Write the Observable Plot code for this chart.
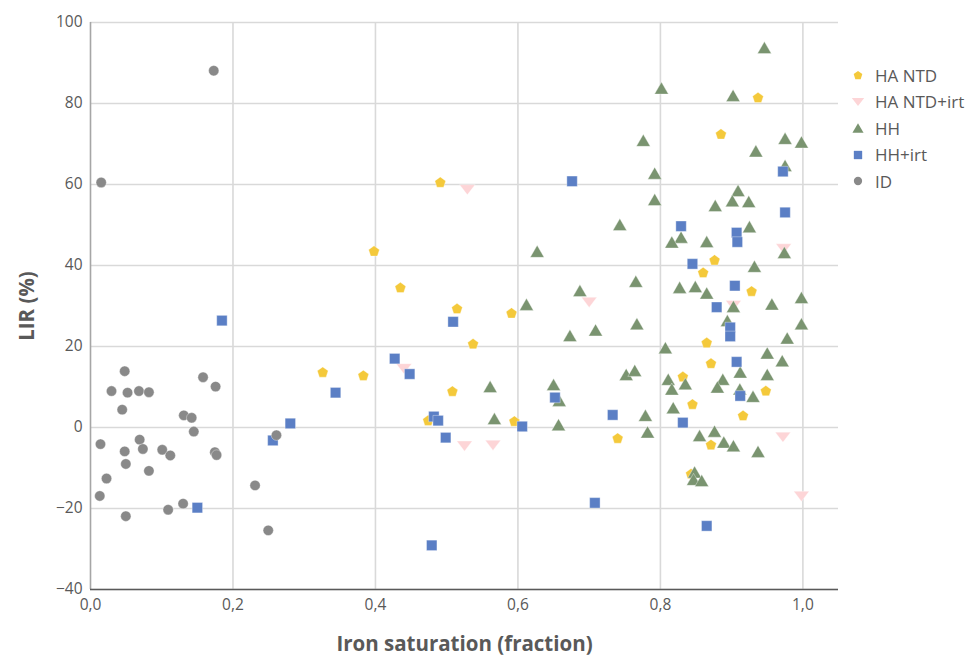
<!DOCTYPE html>
<html>
<head>
<meta charset="utf-8">
<script src="https://cdn.jsdelivr.net/npm/d3@7"></script>
<script src="https://cdn.jsdelivr.net/npm/@observablehq/plot@0.6"></script>
<style>
  body { margin: 0; background: #fff; }
  #wrap { position: relative; width: 973px; height: 658px; font-family: "Open Sans", sans-serif; }
  #legend { position: absolute; left: 849px; top: 62px; color: #595959; font-size: 17px; }
  #legend .row { display: flex; align-items: center; height: 26.5px; }
  #legend svg { width: 18px; height: 18px; margin-right: 8px; }
</style>
</head>
<body>
<div id="wrap"><div id="legend"></div></div>
<script>
// ---- data (x: iron saturation fraction, y: LIR %) ----
const seriesNames = ["HA NTD", "HA NTD+irt", "HH", "HH+irt", "ID"];
const seriesColors = ["#f4c93b", "#fdd5d7", "#7a9470", "#5b7fc5", "#898989"];

const haNtd = [
  [0.491, 60.6], [0.398, 43.6], [0.435, 34.6], [0.5145, 29.4], [0.591, 28.3],
  [0.326, 13.7], [0.383, 12.9], [0.537, 20.7], [0.508, 9.0], [0.474, 1.8],
  [0.595, 1.6], [0.740, -2.6], [0.937, 81.5], [0.885, 72.5], [0.876, 41.4],
  [0.860, 38.3], [0.928, 33.7], [0.865, 21.0], [0.871, 15.9], [0.8315, 12.6],
  [0.948, 9.1], [0.845, 5.8], [0.916, 3.0], [0.871, -4.2], [0.843, -11.4]
];
const haNtdIrt = [
  [0.529, 58.7], [0.700, 30.9], [0.440, 14.5], [0.525, -4.6], [0.565, -4.4],
  [0.973, 44.1], [0.9025, 30.1], [0.972, -2.4], [0.998, -17.0]
];
const hh = [
  [0.743, 50.1], [0.627, 43.5], [0.687, 33.8], [0.612, 30.4], [0.673, 22.7],
  [0.709, 24.1], [0.752, 13.1], [0.561, 10.1], [0.650, 10.6], [0.658, 6.7],
  [0.567, 2.2], [0.657, 0.7], [0.946, 93.8], [0.8015, 83.8], [0.902, 82.0],
  [0.776, 70.9], [0.975, 71.4], [0.998, 70.5], [0.934, 68.3], [0.792, 62.8],
  [0.975, 64.7], [0.792, 56.3], [0.909, 58.5], [0.901, 56.0], [0.924, 55.8],
  [0.877, 54.8], [0.925, 49.6], [0.829, 47.0], [0.816, 45.8], [0.865, 45.9],
  [0.974, 43.2], [0.932, 39.8], [0.7655, 36.1], [0.827, 34.6], [0.849, 34.8],
  [0.865, 33.2], [0.998, 32.1], [0.9565, 30.5], [0.9025, 29.9], [0.894, 26.4],
  [0.998, 25.6], [0.767, 25.6], [0.978, 22.1], [0.807, 19.7], [0.950, 18.4],
  [0.971, 16.5], [0.912, 13.7], [0.950, 13.1], [0.764, 14.1], [0.811, 11.9],
  [0.816, 9.5], [0.835, 10.8], [0.8876, 11.9], [0.880, 10.0], [0.9115, 9.5],
  [0.930, 7.7], [0.818, 4.9], [0.779, 3.0], [0.782, -1.1], [0.855, -2.0],
  [0.876, -0.9], [0.889, -3.6], [0.9025, -4.5], [0.937, -5.9], [0.848, -11.0],
  [0.8465, -12.8], [0.858, -13.1]
];
const hhIrt = [
  [0.1845, 26.4], [0.344, 8.6], [0.2805, 1.0], [0.256, -3.2], [0.150, -19.8],
  [0.676, 60.8], [0.509, 26.1], [0.427, 17.0], [0.448, 13.2], [0.482, 2.7],
  [0.488, 1.7], [0.4986, -2.5], [0.606, 0.25], [0.652, 7.4], [0.733, 3.1],
  [0.708, -18.6], [0.479, -29.1], [0.972, 63.2], [0.975, 53.1], [0.829, 49.7],
  [0.907, 48.1], [0.908, 45.8], [0.845, 40.4], [0.9045, 35.0], [0.879, 29.7],
  [0.898, 24.7], [0.898, 22.5], [0.907, 16.2], [0.912, 7.8], [0.8315, 1.2],
  [0.865, -24.3]
];
const id = [
  [0.173, 88.1], [0.015, 60.5], [0.048, 13.9], [0.0295, 9.0], [0.052, 8.6],
  [0.068, 9.0], [0.082, 8.7], [0.0445, 4.4], [0.158, 12.4], [0.1756, 10.1],
  [0.131, 3.0], [0.142, 2.4], [0.145, -1.0], [0.014, -4.1], [0.069, -3.0],
  [0.0735, -5.3], [0.048, -5.9], [0.1007, -5.5], [0.112, -6.9], [0.1746, -6.1],
  [0.177, -6.8], [0.0496, -9.0], [0.082, -10.7], [0.0225, -12.6], [0.013, -16.9],
  [0.231, -14.3], [0.261, -1.9], [0.130, -18.8], [0.109, -20.3], [0.0496, -21.9],
  [0.2495, -25.4]
];
const seriesData = [haNtd, haNtdIrt, hh, hhIrt, id];

const xTicks = [0, 0.2, 0.4, 0.6, 0.8, 1.0];
const yTicks = [-40, -20, 0, 20, 40, 60, 80, 100];

// ---- marker shapes (scaled from r) ----
const rad = size => Math.sqrt(size / Math.PI);
const pentagon = {draw(c, size) { const r = rad(size);
  for (let i = 0; i < 5; i++) { const a = -Math.PI / 2 + i * 2 * Math.PI / 5;
    const px = r * Math.cos(a), py = r * Math.sin(a) + r * 0.1;
    i ? c.lineTo(px, py) : c.moveTo(px, py); } c.closePath(); }};
const triDown = {draw(c, size) { const r = rad(size); const w = r * 1.25, h = r * 0.82;
  c.moveTo(-w, -h); c.lineTo(w, -h); c.lineTo(0, h); c.closePath(); }};
const triUp = {draw(c, size) { const r = rad(size); const w = r * 1.12, h = r * 0.97;
  c.moveTo(-w, h); c.lineTo(w, h); c.lineTo(0, -h); c.closePath(); }};
const square = {draw(c, size) { const r = rad(size) * 0.87; c.rect(-r, -r, 2 * r, 2 * r); }};
const circle = {draw(c, size) { const r = rad(size) * 0.85; c.moveTo(r, 0); c.arc(0, 0, r, 0, 2 * Math.PI); }};
const seriesSymbols = [pentagon, triDown, triUp, square, circle];
const seriesR = [5.7, 6.2, 6.2, 6, 6.1];

const fmt = d => d.toFixed(1).replace(".", ",");

const dotMarks = seriesData.map((data, i) => Plot.dot(data, {
  x: d => d[0], y: d => d[1], symbol: seriesSymbols[i], r: seriesR[i],
  fill: seriesColors[i], stroke: "#ffffff", strokeWidth: 0.6, strokeOpacity: 0.6
}));

const chart = Plot.plot({
  width: 973, height: 658,
  marginLeft: 90, marginRight: 135, marginTop: 22, marginBottom: 69,
  x: {domain: [0, 1.05]},
  y: {domain: [-40, 100]},
  style: {fontFamily: "Open Sans, sans-serif", background: "#fff", color: "#595959"},
  marks: [
    Plot.gridX(xTicks.slice(1), {stroke: "#d9d9d9", strokeOpacity: 1, strokeWidth: 1.6}),
    Plot.gridY(yTicks, {stroke: "#d9d9d9", strokeOpacity: 1, strokeWidth: 1.6}),
    Plot.ruleX([0], {stroke: "#a6a6a6", strokeWidth: 1.6}),
    Plot.ruleY([-40], {stroke: "#595959", strokeWidth: 1.6}),
    Plot.axisX(xTicks, {tickSize: 0, tickPadding: 9, tickFormat: fmt, fontSize: 15.5, fill: "#595959",
      label: "Iron saturation (fraction)", labelAnchor: "center", labelArrow: "none", labelOffset: 61}),
    Plot.axisY(yTicks, {tickSize: 0, tickPadding: 8, fontSize: 15.5, fill: "#595959",
      label: "LIR (%)", labelAnchor: "center", labelArrow: "none", labelOffset: 71}),
    ...dotMarks
  ]
});
chart.querySelectorAll("g[aria-label='x-axis label'], g[aria-label='y-axis label']").forEach(el => {
  el.setAttribute("font-weight", "bold"); el.setAttribute("font-size", "20.5"); el.setAttribute("fill", "#595959");
});
document.getElementById("wrap").prepend(chart);

// ---- legend ----
const legend = d3.select("#legend");
seriesNames.forEach((name, i) => {
  const row = legend.append("div").attr("class", "row");
  const r = seriesR[i] * 0.8;
  const p = d3.path(); seriesSymbols[i].draw(p, Math.PI * r * r);
  row.append("svg").attr("viewBox", "-9 -9 18 18").append("path")
    .attr("d", p.toString()).attr("fill", seriesColors[i]);
  row.append("span").text(name);
});
</script>
</body>
</html>
